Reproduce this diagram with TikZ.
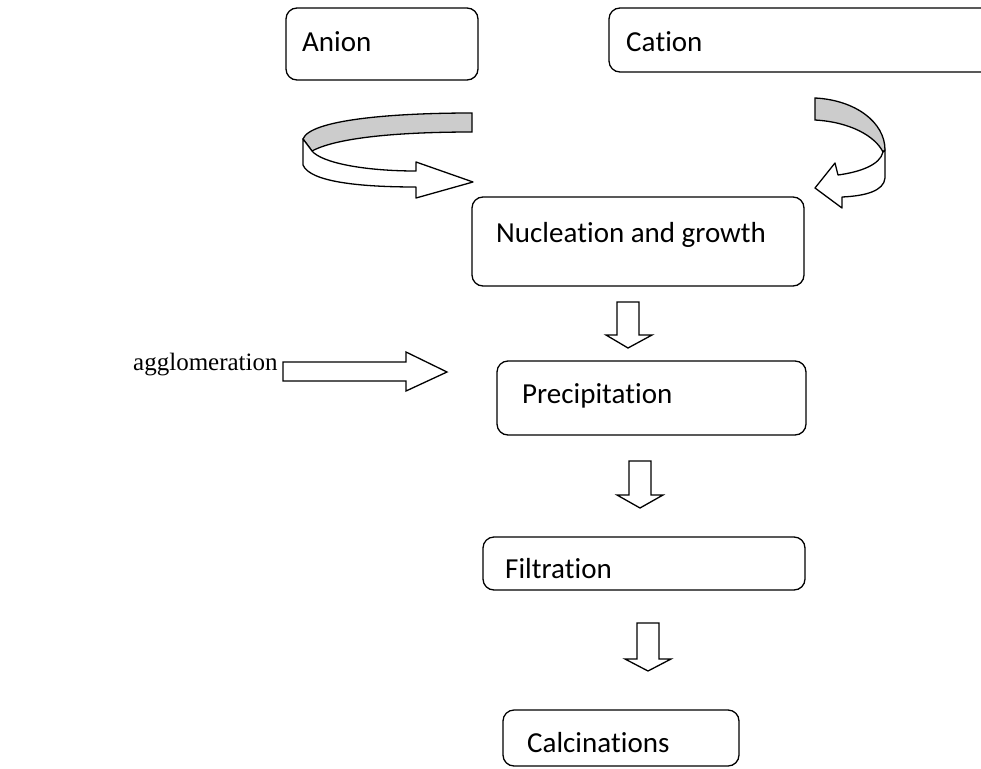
\documentclass[tikz,border=0pt]{standalone}
\usepackage{fontspec}
\setmainfont{Carlito}[Ligatures={NoCommon,NoRare,NoContextual}]
\newfontfamily\serifface{Liberation Serif}
\begin{document}
\begin{tikzpicture}[x=1pt,y=-1pt,
  box/.style={draw=black,line width=1.3pt,rounded corners=11pt},
  lbl/.style={anchor=base west,inner sep=0pt,font=\fontsize{29}{34}\selectfont},
  blk/.style={draw=black,line width=1.3pt,fill=white,line join=miter},
  band/.style={draw=black,line width=1.3pt,fill=black!20}]
\useasboundingbox (0,0) rectangle (981,768);
% boxes
\draw[box] (286,8) rectangle (478,80);
\draw[box] (609,8) rectangle (1000,72);
\draw[box] (472,197) rectangle (804,286);
\draw[box] (497,361) rectangle (806,435);
\draw[box] (483,537) rectangle (805,590);
\draw[box] (503,710) rectangle (739,766);
% labels
\node[lbl] (anion) at (302,52) {Anion};
\node[lbl] (cation) at (626,52) {Ca\kern0ptt\kern0pti\kern0pton};
\node[lbl] (nuc) at (496,242) {Nuclea\kern0ptt\kern0pti\kern0pton and growth};
\node[lbl] (prec) at (522,403) {Precipita\kern0ptt\kern0pti\kern0pton};
\node[lbl] (filt) at (505,578) {F\kern0pti\kern0ptl\kern0pttra\kern0ptt\kern0pti\kern0pton};
\node[lbl] (calc) at (527,752) {Calcina\kern0ptt\kern0pti\kern0ptons};
\node[anchor=base west,inner sep=0pt,font=\serifface\fontsize{25}{30}\selectfont] (agg) at (133,370) {agglomeration};
% down block arrows
\draw[blk] (617,302) -- (639,302) -- (639,335) -- (652,335) -- (628,348) -- (606,335) -- (617,335) -- cycle;
\draw[blk] (629,461) -- (651,461) -- (651,495) -- (663,495) -- (640,508) -- (617,495) -- (629,495) -- cycle;
\draw[blk] (637,623) -- (659,623) -- (659,659) -- (671,659) -- (648,671) -- (625,659) -- (637,659) -- cycle;
% agglomeration arrow
\draw[blk] (283,362) -- (406,362) -- (406,352) -- (447,372) -- (406,391) -- (406,381) -- (283,381) -- cycle;
% left curved arrow (anion)
\draw[band] (472,113) .. controls (390,113) and (310,120) .. (303,139)
  -- (312,151) .. controls (340,136) and (410,132) .. (472,132) -- cycle;
\draw[blk,line join=round] (303,139) -- (303,165) .. controls (310,182) and (360,187) .. (416,187)
  -- (416,198) -- (473,182) -- (416,162) -- (416,171)
  .. controls (365,171) and (322,163) .. (312,151) -- cycle;
% right curved arrow (cation)
\draw[band] (815,98) .. controls (855,100) and (885,122) .. (885,150)
  -- (883,152) .. controls (875,136) and (850,122) .. (815,120) -- cycle;
\draw[blk,line join=round] (885,150) -- (885,178) .. controls (884,191) and (865,196) .. (842,197)
  -- (842,208) -- (815,188) -- (835,163) -- (838,175)
  .. controls (860,172) and (880,165) .. (883,152) -- cycle;
\end{tikzpicture}
\end{document}
